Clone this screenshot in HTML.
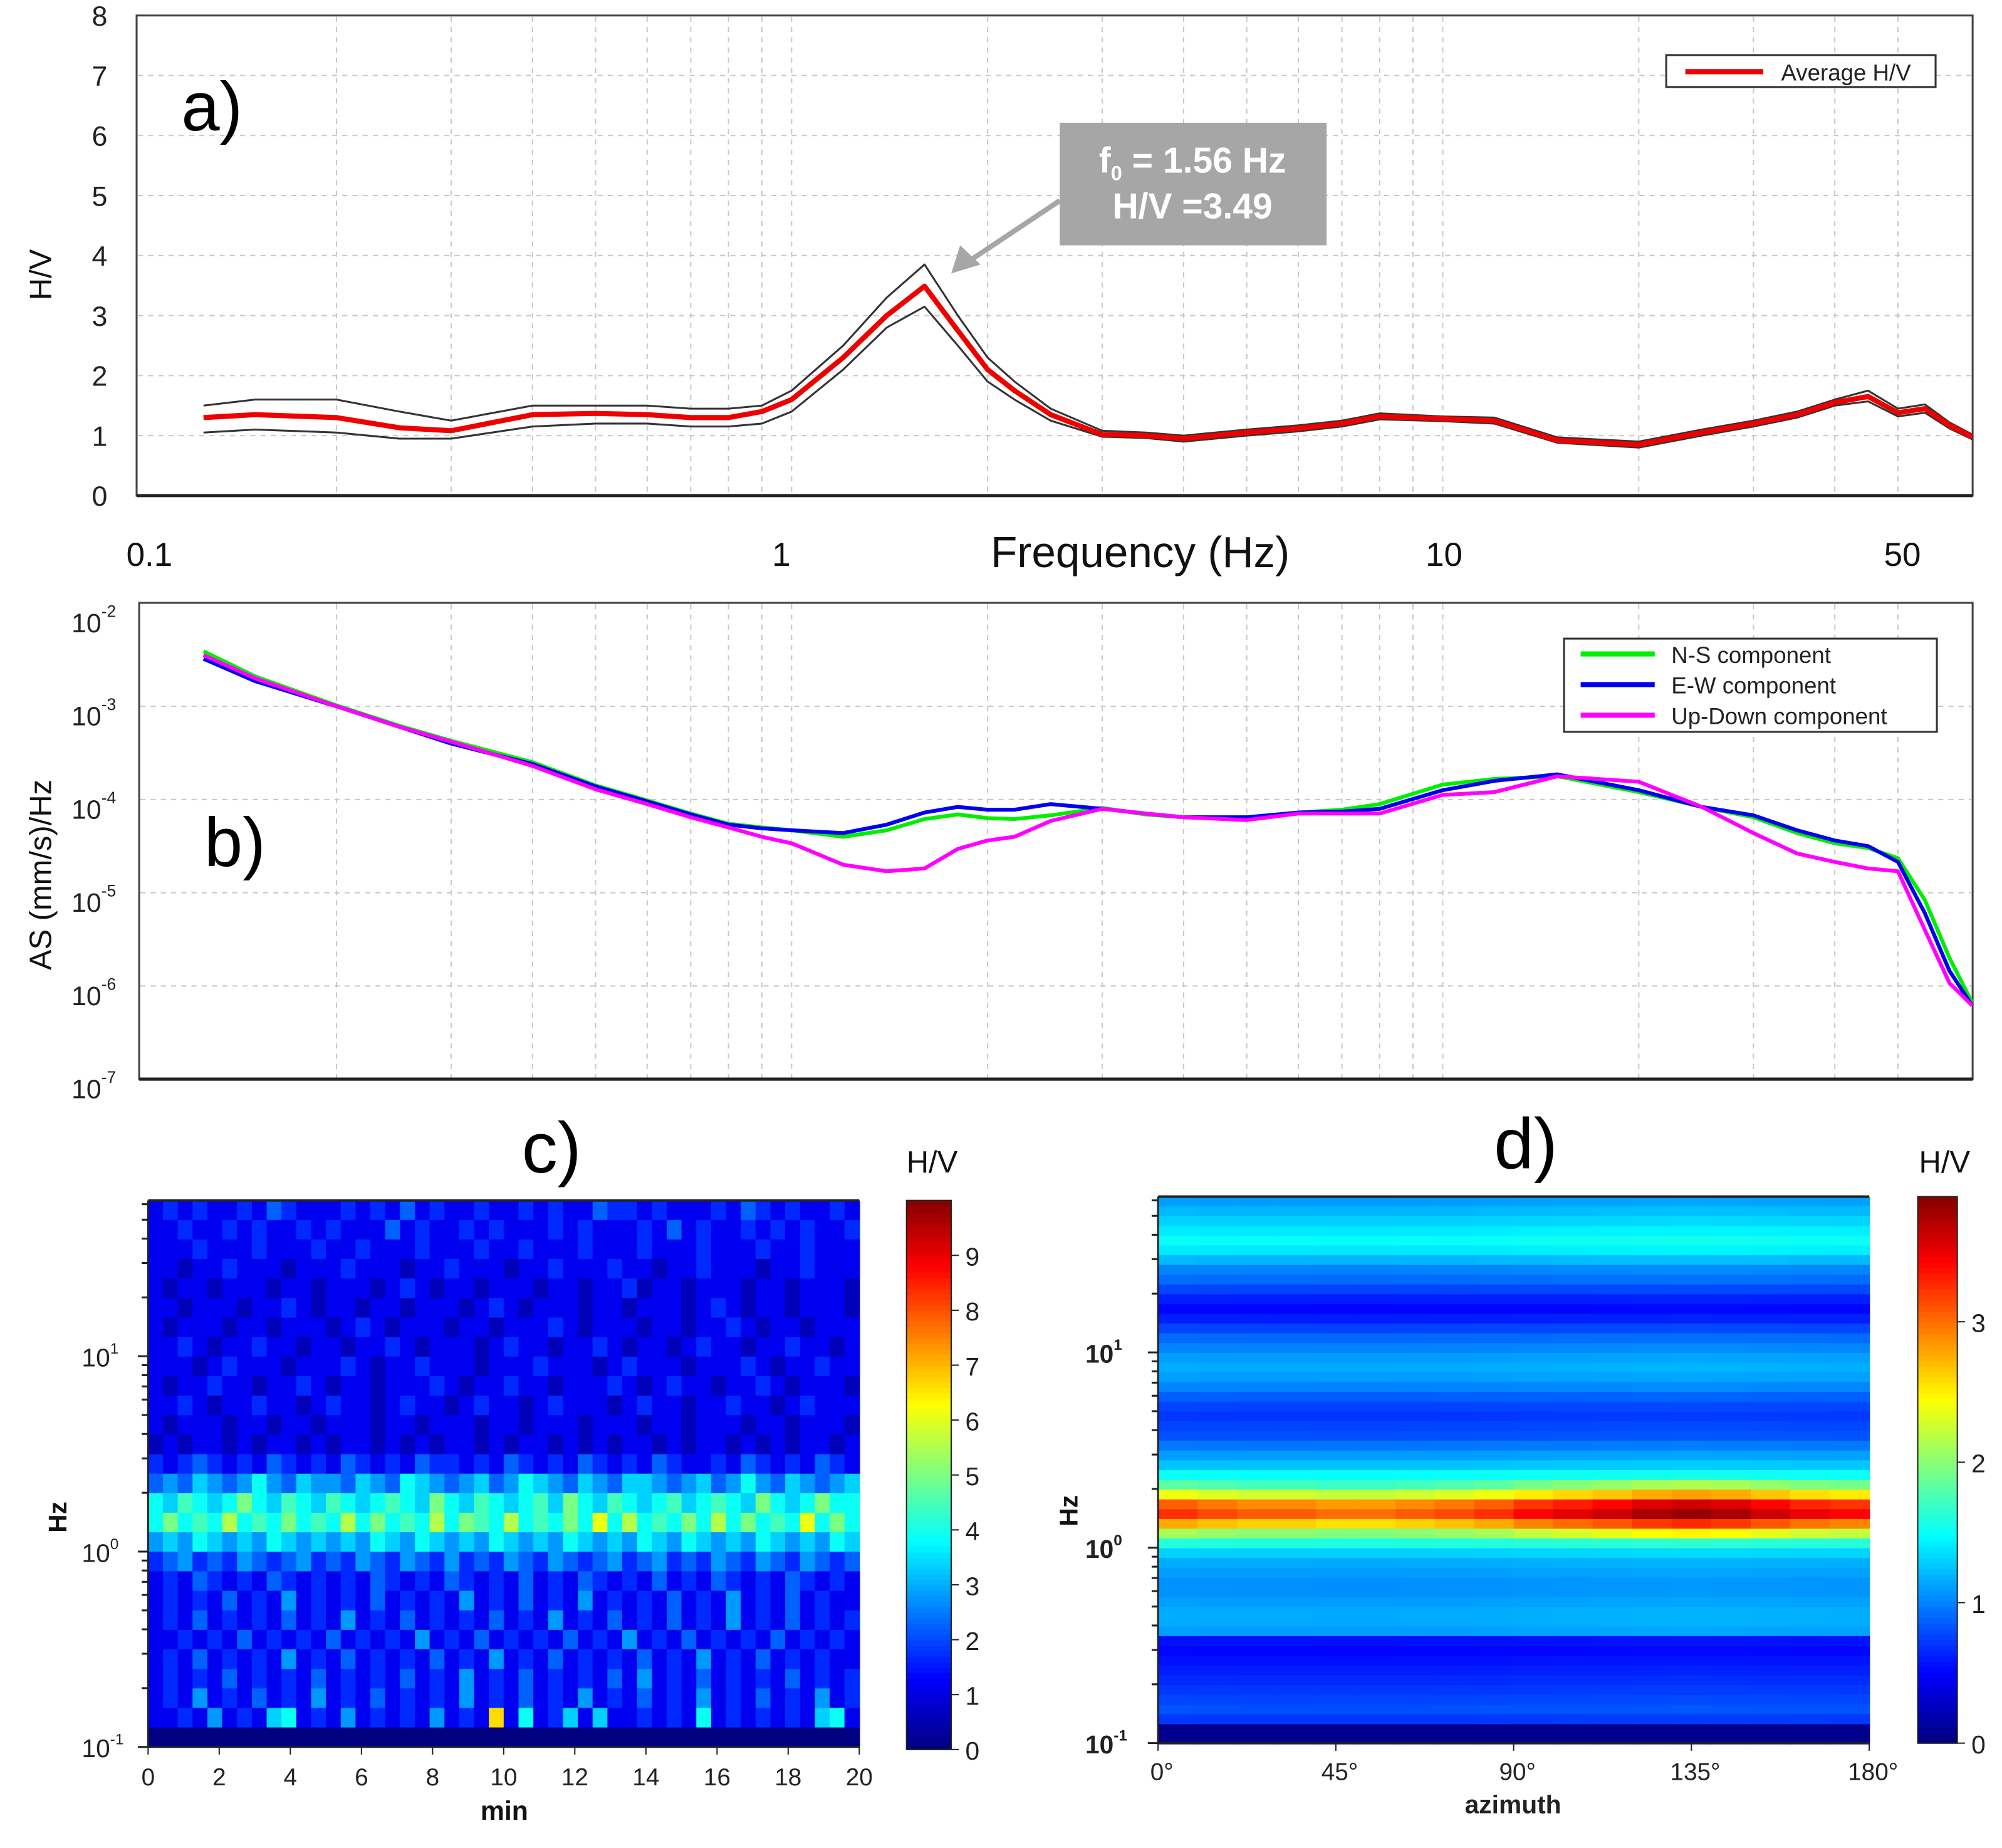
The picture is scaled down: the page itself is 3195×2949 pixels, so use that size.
<!DOCTYPE html>
<html><head><meta charset="utf-8">
<style>
html,body{margin:0;padding:0;background:#fff}
svg{display:block}
text{font-family:"Liberation Sans",sans-serif}
</style></head>
<body>
<svg id="fig" xmlns="http://www.w3.org/2000/svg" width="3195" height="2949" viewBox="0 0 1568 1447">
<rect x="0" y="0" width="1568" height="1447" fill="#fff"/>
<g id="pa"></g>
<g id="pb"></g>
<g id="pc"></g>
<g id="pd"></g>
</svg>
<script>
// ---------- data ----------
const freqs = [0.125,0.15,0.2,0.25,0.3,0.4,0.5,0.6,0.7,0.8,0.9,1.0,1.2,1.4,1.6,1.8,2.0,2.2,2.5,3,3.5,4,5,6,7,8,10,12,15,20,25,30,35,40,45,50,55,60,65];
const hvMean = [1.3,1.35,1.3,1.13,1.08,1.35,1.37,1.35,1.3,1.3,1.4,1.6,2.3,3.0,3.49,2.75,2.1,1.75,1.35,1.02,1.0,0.95,1.05,1.12,1.2,1.32,1.28,1.25,0.92,0.85,1.05,1.2,1.35,1.55,1.65,1.38,1.45,1.17,0.98];
const hvUpper = [1.5,1.6,1.6,1.4,1.25,1.5,1.5,1.5,1.45,1.45,1.5,1.75,2.5,3.3,3.85,3.0,2.3,1.9,1.45,1.08,1.05,1.0,1.1,1.17,1.25,1.37,1.32,1.3,0.97,0.9,1.1,1.25,1.4,1.6,1.75,1.45,1.52,1.22,1.02];
const hvLower = [1.05,1.1,1.05,0.95,0.95,1.15,1.2,1.2,1.15,1.15,1.2,1.4,2.1,2.8,3.15,2.5,1.9,1.6,1.25,0.98,0.96,0.9,1.0,1.07,1.15,1.27,1.24,1.2,0.88,0.8,1.0,1.15,1.3,1.5,1.57,1.32,1.38,1.12,0.94];
// log10 amplitude spectra (mm/s)/Hz
const nsLog = [-2.41,-2.68,-2.99,-3.21,-3.37,-3.60,-3.85,-4.01,-4.15,-4.26,-4.30,-4.33,-4.40,-4.33,-4.21,-4.16,-4.20,-4.21,-4.17,-4.09,-4.16,-4.19,-4.19,-4.14,-4.11,-4.05,-3.84,-3.78,-3.75,-3.92,-4.08,-4.19,-4.36,-4.47,-4.52,-4.63,-5.08,-5.70,-6.18];
const ewLog = [-2.49,-2.73,-3.0,-3.22,-3.40,-3.62,-3.86,-4.02,-4.16,-4.27,-4.31,-4.33,-4.36,-4.27,-4.14,-4.08,-4.11,-4.11,-4.05,-4.10,-4.15,-4.19,-4.19,-4.14,-4.13,-4.10,-3.90,-3.80,-3.73,-3.90,-4.08,-4.17,-4.33,-4.44,-4.50,-4.67,-5.22,-5.84,-6.21];
const udLog = [-2.45,-2.70,-3.0,-3.22,-3.38,-3.64,-3.89,-4.05,-4.19,-4.30,-4.40,-4.47,-4.70,-4.77,-4.74,-4.53,-4.44,-4.40,-4.23,-4.10,-4.15,-4.19,-4.22,-4.15,-4.15,-4.15,-3.95,-3.92,-3.75,-3.81,-4.08,-4.36,-4.58,-4.67,-4.74,-4.77,-5.40,-5.97,-6.21];
const hvTicks = [0,1,2,3,4,5,6,7,8];
const freqTickLabels = ["0.1","1","10","50"];
const freqTickValues = [0.1,1,10,50];
const gridFreqs = [0.2,0.3,0.4,0.5,0.6,0.7,0.8,0.9,1,2,3,4,5,6,7,8,9,10,20,30,40,50];
const ampTickExp = [-2,-3,-4,-5,-6,-7];
// panel c: time-frequency H/V (letters: value=(code-97)*0.55), rows top (high f) -> bottom
const tfRows = [
"cdcdccdcedcccdcdcecdccdccdcdcceddcdcccdcedcdccdc",
"ccdccdcdccdcdcccecdccdcdcccdcdcccdcecdccdcdcdccd",
"cccdcccdcccdccdcccdcccdccdcccdcccdcccdcccdccdccc",
"ccbccdcccbcccdcccbccdcccbccdcccdccbccdcccbccdccc",
"cbccbcccbccbcccbcdcbccbcccbccbccdbccbcccbccbcccb",
"ccbcccbccdcbccbccbcccbcdcbcccbccbcccbcdcbccbcccb",
"cbcccbccbcccbcdcbcccbccbcccdcbcccbccbccdcbccbccc",
"ccdcbccdccbccbccdcbcccbcdccbccdcbccbcdccbccdccbc",
"cccbcdcccbcccdcbccdcccbcccdcccbcdcccbcccdcbccdcc",
"cbccdccbccdcbccbcccdcbccdccbcccdcbcdccbccdcbcccb",
"ccdcbccdccbcdccbcdccbcdccbcdcccbcdccbccdccbcdccc",
"cbcccbccbccbcccbccbcccbccbcccbcccbccbcccbccbcccb",
"bcbccbcbccbcbccbcbcbccbcbccbcbcbccbcbccbcbcbccbc",
"dcdedcdcedcdcedcdceddcdcedcdcedcdcedccdcedcdcedc",
"efegfefhfegffegfehgfefgefhgfegfeggfefgefhfegfefg",
"hgihghjhgihgihghihgjhgihghigjhgihghighihgjhghjhh",
"hjhihkhihjhihkhjhihkhjihkhihjhlhkhihjhkhjhihlhjh",
"fgfhgfgfhgfgfgfhgfhgfgfhgfgfhgfgfhgfhgfgfhgfgfhg",
"defdedfedefdedfedfedfdedfedfedefdefdedfedfedfede",
"cdcedcdcedcdcdcedcdcedcdcecdcedcdcecdcedcdcedcdc",
"cdcdcecdcfcdcdcecdcdcfcdcecdcfcdcdcecdcfcdcecdcc",
"cdcecdcdcecdcfcdcecdcdcecdcfcdcecdcecdcfcdcecdcd",
"ccdcdcecdcdcecdcdcfcdcecdcdcecdcfcdcecdcdcecdcdc",
"cdcecdcdcfcdcecdcdcecdcfcdcecdcdcecdcfcdcecdcdcc",
"cdcdcecdcdcecdcdcecdcfcdcecdcdcecfcdcecdcdcecdcd",
"cdcfcdcecdcfcdcecdcdcfcdcecdcfcdcecdcfcdcecdcfcd",
"ccdcfcdcghcdcfcdcdcfcdcmchcdgcgccdcdchcdcdcdcghc",
"aaaaaaaaaaaaaaaaaaaaaaaaaaaaaaaaaaaaaaaaaaaaaaaa"];
const minTicks = [0,2,4,6,8,10,12,14,16,18,20];
const cbarCTicks = [0,1,2,3,4,5,6,7,8,9];
// panel d: azimuthal H/V profile (rows top->bottom, 0.05 decade each from 10^1.8 down to 10^-1)
const azProfile = [1.1,1.2,1.3,1.4,1.5,1.4,1.2,1.0,0.9,0.75,0.6,0.5,0.6,0.75,0.9,1.0,1.1,1.15,1.1,1.0,0.85,0.75,0.7,0.75,0.8,0.95,1.1,1.25,1.5,1.9,2.5,3.2,3.4,2.9,2.2,1.6,1.3,1.15,1.1,1.05,1.05,1.1,1.15,1.15,1.1,0.55,0.5,0.55,0.6,0.65,0.7,0.75,0.8,0.7,0.05,0.05];
const azGain = [0.95,0.92,0.9,0.9,0.88,0.88,0.9,0.92,0.95,1.0,1.03,1.06,1.1,1.12,1.1,1.06,1.02,1.0];
const azTicks = ["0°","45°","90°","135°","180°"];
const cbarDTicks = [0,1,2,3];

// ---------- helpers ----------
const NS="http://www.w3.org/2000/svg";
function mk(tag, attrs, parent, txt){const e=document.createElementNS(NS,tag);for(const k in attrs)e.setAttribute(k,attrs[k]);if(txt!==undefined)e.textContent=txt;parent.appendChild(e);return e;}
function jet(t){t=Math.max(0,Math.min(1,t));const c=v=>Math.round(255*Math.max(0,Math.min(1,v)));return `rgb(${c(1.5-Math.abs(4*t-3))},${c(1.5-Math.abs(4*t-2))},${c(1.5-Math.abs(4*t-1))})`;}
const xF = f => 620 + 510*Math.log10(f);
const yHV = v => 388 - 47*v;
const yAmp = lg => 480 - 73*(lg+2);

// ---------- panel a ----------
const pa=document.getElementById('pa');
mk('rect',{x:107,y:12,width:1438,height:376,fill:'#fff',stroke:'#444','stroke-width':1.5},pa);
for(const f of gridFreqs){const gl=mk('line',{x1:xF(f),x2:xF(f),y1:13,y2:387,stroke:'#c8c8c8','stroke-dasharray':'4,4'},pa);

}
for(const v of hvTicks){
 if(v>0&&v<8){const gl=mk('line',{x1:108,x2:1544,y1:yHV(v),y2:yHV(v),stroke:'#c8c8c8','stroke-dasharray':'4,4'},pa);
 
 }
 const t=mk('text',{x:78,y:yHV(v)+8,'font-size':22,'text-anchor':'middle',fill:'#222'},pa,String(v));
 
 
}
mk('line',{x1:107,x2:1545,y1:388,y2:388,stroke:'#222','stroke-width':2.5},pa);
function line(g, xs, ys, color, w, name){
 const d=xs.map((x,i)=>(i?'L':'M')+x.toFixed(1)+','+ys[i].toFixed(1)).join('');
 const p=mk('path',{d:d,fill:'none',stroke:color,'stroke-width':w,'stroke-linejoin':'round'},g);
 
 
 return p;
}
const fx=freqs.map(xF);
line(pa,fx,hvUpper.map(yHV),'#333',1.5,'hv-upper-std-line');
line(pa,fx,hvLower.map(yHV),'#333',1.5,'hv-lower-std-line');
line(pa,fx,hvMean.map(yHV),'#ee0000',4,'hv-average-line');
let t;
t=mk('text',{x:40,y:215,'font-size':24,'text-anchor':'middle',transform:'rotate(-90 40 215)',fill:'#111'},pa,'H/V');


t=mk('text',{x:142,y:102,'font-size':54,fill:'#000'},pa,'a)');


// legend a
const la=mk('g',{},pa);


mk('rect',{x:1305,y:43,width:211,height:25,fill:'#fff',stroke:'#333','stroke-width':1.5},la);
mk('line',{x1:1320,x2:1381,y1:56,y2:56,stroke:'#ee0000','stroke-width':4},la);
mk('text',{x:1395,y:63,'font-size':18,fill:'#222'},la,'Average H/V');
// annotation
const an=mk('g',{},pa);


mk('line',{x1:830,y1:157,x2:758,y2:205,stroke:'#a6a6a6','stroke-width':4},an);
mk('polygon',{points:'745,214 752,192 768,207',fill:'#a6a6a6'},an);
mk('rect',{x:830,y:96,width:209,height:96,fill:'#a6a6a6'},an);
const at=mk('text',{x:934,y:135,'font-size':28,'font-weight':'bold','text-anchor':'middle',fill:'#fff','font-family':'Liberation Serif, serif'},an);
mk('tspan',{},at,'f');mk('tspan',{'font-size':16,dy:6},at,'0');mk('tspan',{dy:-6},at,' = 1.56 Hz');
mk('text',{x:934,y:171,'font-size':28,'font-weight':'bold','text-anchor':'middle',fill:'#fff','font-family':'Liberation Serif, serif'},an,'H/V =3.49');
// x labels
freqTickLabels.forEach((lab,i)=>{const tt=mk('text',{x:[117,612,1131,1490][i],y:443,'font-size':26,'text-anchor':'middle',fill:'#111'},pa,lab);

});
t=mk('text',{x:893,y:444,'font-size':34,'text-anchor':'middle',fill:'#111'},pa,'Frequency (Hz)');



// ---------- panel b ----------
const pb=document.getElementById('pb');
mk('rect',{x:109,y:472,width:1436,height:373,fill:'#fff',stroke:'#444','stroke-width':1.5},pb);
for(const f of gridFreqs){const gl=mk('line',{x1:xF(f),x2:xF(f),y1:473,y2:844,stroke:'#c8c8c8','stroke-dasharray':'4,4'},pb);

}
for(const e of ampTickExp){
 const y=yAmp(e);
 if(e<-2&&e>-7){const gl=mk('line',{x1:110,x2:1544,y1:y,y2:y,stroke:'#c8c8c8','stroke-dasharray':'4,4'},pb);
 
 }
 const tt=mk('text',{x:56,y:y+15,'font-size':21,fill:'#222'},pb);
 mk('tspan',{},tt,'10');mk('tspan',{'font-size':13,dy:-12},tt,String(e));
 
 
}
mk('line',{x1:109,x2:1545,y1:845,y2:845,stroke:'#222','stroke-width':2.5},pb);
line(pb,fx,nsLog.map(yAmp),'#00ee00',3,'ns-component-line');
line(pb,fx,ewLog.map(yAmp),'#0000ee',3,'ew-component-line');
line(pb,fx,udLog.map(yAmp),'#ff00ff',3,'ud-component-line');
t=mk('text',{x:40,y:685,'font-size':24,'text-anchor':'middle',transform:'rotate(-90 40 685)',fill:'#111'},pb,'AS (mm/s)/Hz');


t=mk('text',{x:160,y:678,'font-size':54,fill:'#000'},pb,'b)');


const lb=mk('g',{},pb);


mk('rect',{x:1225,y:500,width:292,height:73,fill:'#fff',stroke:'#333','stroke-width':1.5},lb);
[['#00ee00','N-S component',512],['#0000ee','E-W component',536],['#ff00ff','Up-Down component',560]].forEach(r=>{
 mk('line',{x1:1238,x2:1296,y1:r[2],y2:r[2],stroke:r[0],'stroke-width':4},lb);
 mk('text',{x:1309,y:r[2]+7,'font-size':18,fill:'#222'},lb,r[1]);
});

// ---------- panel c ----------
const pc=document.getElementById('pc');
const cX0=116,cX1=673,cY0=940,cY1=1368;
const nCol=48,nRow=tfRows.length;
const cw=(cX1-cX0)/nCol,ch=(cY1-cY0)/nRow;
for(let r=0;r<nRow;r++){for(let c=0;c<nCol;c++){
 const v=((tfRows[r].charCodeAt(c)||99)-97)*0.55;
 const cell=mk('rect',{x:cX0+c*cw,y:cY0+r*ch,width:cw+0.6,height:ch+0.6,fill:jet(v/10)},pc);
 
 
}}
mk('line',{x1:cX0,x2:cX1,y1:cY0,y2:cY0,stroke:'#222','stroke-width':2},pc);
mk('line',{x1:cX0,x2:cX0,y1:cY0,y2:cY1,stroke:'#222','stroke-width':1.5},pc);
mk('line',{x1:cX0,x2:cX1,y1:cY1,y2:cY1,stroke:'#222','stroke-width':1.5},pc);
const yLogC = lg => 1368 - 153*(lg+1);
const yLogD = lg => 1365 - 153*(lg+1);
function logMinor(g,x,yf){
 for(let d=-1;d<=1;d++)for(let m=1;m<=9;m++){const lg=d+Math.log10(m);if(lg>1.8)continue;const y=yf(lg);
  mk('line',{x1:x-(m==1?8:5),x2:x,y1:y,y2:y,stroke:'#222','stroke-width':1.5},g);}
}
logMinor(pc,cX0,yLogC);
[[-1,'10','-1'],[0,'10','0'],[1,'10','1']].forEach(a=>{const tt=mk('text',{x:64,y:yLogC(a[0])+8,'font-size':20,fill:'#222'},pc);
 mk('tspan',{},tt,a[1]);mk('tspan',{'font-size':12,dy:-10},tt,a[2]);
 
 });
minTicks.forEach(m=>{const x=cX0+(cX1-cX0)*m/20;mk('line',{x1:x,x2:x,y1:cY1,y2:cY1+6,stroke:'#222'},pc);
 const tt=mk('text',{x:x,y:1398,'font-size':19,'text-anchor':'middle',fill:'#222'},pc,String(m));
 
 });
t=mk('text',{x:395,y:1425,'font-size':21,'font-weight':'bold','text-anchor':'middle',fill:'#111'},pc,'min');


t=mk('text',{x:52,y:1188,'font-size':20,'font-weight':'bold','text-anchor':'middle',transform:'rotate(-90 52 1188)',fill:'#111'},pc,'Hz');


t=mk('text',{x:432,y:918,'font-size':56,'text-anchor':'middle',fill:'#000'},pc,'c)');


// colorbar c
const gcb=mk('g',{},pc);


for(let i=0;i<100;i++){const v0=i/100*10;mk('rect',{x:710,y:1370-(i+1)*4.3,width:35,height:4.8,fill:jet(v0/10)},gcb);}
mk('rect',{x:710,y:940,width:35,height:430,fill:'none',stroke:'#222'},gcb);
cbarCTicks.forEach(v=>{const y=1370-43*v;mk('line',{x1:745,x2:751,y1:y,y2:y,stroke:'#222'},gcb);mk('text',{x:756,y:y+8,'font-size':20,fill:'#222'},gcb,String(v));});
t=mk('text',{x:730,y:918,'font-size':24,'text-anchor':'middle',fill:'#111'},pc,'H/V');



// ---------- panel d ----------
const pd=document.getElementById('pd');
const dX0=907,dX1=1464,dY0=937;
const dRow=7.65,nAz=azGain.length,dw=(dX1-dX0)/nAz;
azProfile.forEach((p,i)=>{for(let j=0;j<nAz;j++){
 const v=p>1.8?p*azGain[j]:p*(1+(azGain[j]-1)*0.15);
 const cell=mk('rect',{x:dX0+j*dw,y:dY0+i*dRow,width:dw+0.6,height:dRow+0.6,fill:jet(v/3.89)},pd);
 
 
}});
mk('line',{x1:dX0,x2:dX1,y1:dY0,y2:dY0,stroke:'#222','stroke-width':2},pd);
mk('line',{x1:dX0,x2:dX0,y1:dY0,y2:1365,stroke:'#222','stroke-width':1.5},pd);
mk('line',{x1:dX0,x2:dX1,y1:1365,y2:1365,stroke:'#222','stroke-width':1.5},pd);
logMinor(pd,dX0,yLogD);
[[-1,'10','-1'],[0,'10','0'],[1,'10','1']].forEach(a=>{const tt=mk('text',{x:850,y:yLogD(a[0])+8,'font-size':20,fill:'#222','font-weight':'bold'},pd);
 mk('tspan',{},tt,a[1]);mk('tspan',{'font-size':12,dy:-10},tt,a[2]);
 
 });
azTicks.forEach((lab,i)=>{const x=dX0+(dX1-dX0)*i/4;mk('line',{x1:x,x2:x,y1:1365,y2:1371,stroke:'#222'},pd);
 const tt=mk('text',{x:x+3,y:1394,'font-size':19,'text-anchor':'middle',fill:'#222'},pd,lab);
 
 });
t=mk('text',{x:1185,y:1420,'font-size':20,'font-weight':'bold','text-anchor':'middle',fill:'#222'},pd,'azimuth');


t=mk('text',{x:844,y:1183,'font-size':20,'font-weight':'bold','text-anchor':'middle',transform:'rotate(-90 844 1183)',fill:'#111'},pd,'Hz');


t=mk('text',{x:1195,y:915,'font-size':56,'text-anchor':'middle',fill:'#000'},pd,'d)');


const gdb=mk('g',{},pd);


for(let i=0;i<100;i++){mk('rect',{x:1502,y:1365-(i+1)*4.28,width:31,height:4.8,fill:jet(i/100)},gdb);}
mk('rect',{x:1502,y:937,width:31,height:428,fill:'none',stroke:'#222'},gdb);
cbarDTicks.forEach(v=>{const y=1365-110*v;mk('line',{x1:1533,x2:1539,y1:y,y2:y,stroke:'#222'},gdb);mk('text',{x:1544,y:y+8,'font-size':20,fill:'#222'},gdb,String(v));});
t=mk('text',{x:1523,y:918,'font-size':24,'text-anchor':'middle',fill:'#111'},pd,'H/V');


</script>
</body></html>
